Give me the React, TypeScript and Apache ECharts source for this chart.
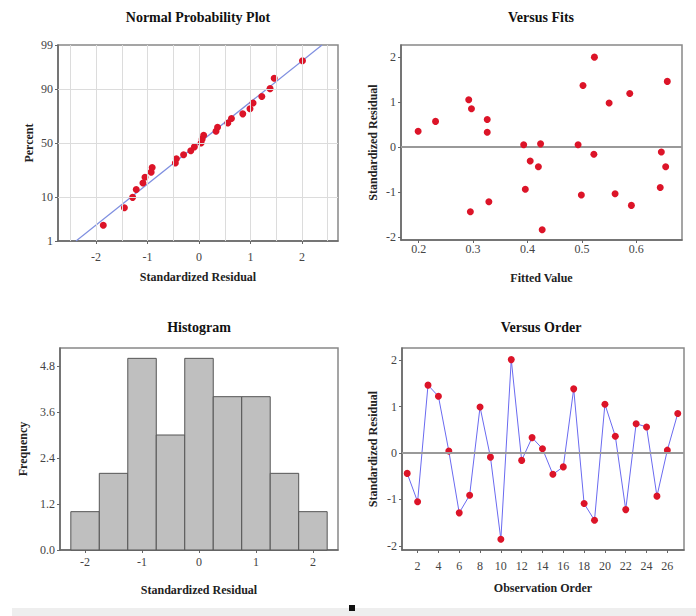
import React, { useEffect, useRef } from "react";
import * as echarts from "echarts";

// ---------- data ----------
const observationOrder = [1, 2, 3, 4, 5, 6, 7, 8, 9, 10, 11, 12, 13, 14, 15, 16, 17, 18, 19, 20, 21, 22, 23, 24, 25, 26, 27];
const residualsByOrder = [-0.44, -1.05, 1.46, 1.22, 0.04, -1.29, -0.91, 0.99, -0.09, -1.86, 2.01, -0.16, 0.33, 0.09, -0.46, -0.3, 1.38, -1.09, -1.45, 1.05, 0.36, -1.22, 0.63, 0.56, -0.93, 0.06, 0.85];

const fittedValues = [0.199, 0.231, 0.292, 0.297, 0.326, 0.326, 0.295, 0.329, 0.393, 0.424, 0.405, 0.42, 0.396, 0.427, 0.493, 0.502, 0.523, 0.522, 0.499, 0.55, 0.561, 0.588, 0.591, 0.657, 0.646, 0.654, 0.644];
const fitsResiduals = [0.35, 0.57, 1.05, 0.85, 0.61, 0.33, -1.44, -1.22, 0.05, 0.07, -0.31, -0.44, -0.94, -1.84, 0.05, 1.37, 2.0, -0.16, -1.07, 0.98, -1.04, 1.19, -1.3, 1.46, -0.11, -0.44, -0.9];

const sortedResiduals = [-1.86, -1.45, -1.29, -1.22, -1.09, -1.05, -0.93, -0.91, -0.46, -0.44, -0.3, -0.16, -0.09, 0.04, 0.06, 0.09, 0.33, 0.36, 0.56, 0.63, 0.85, 0.99, 1.05, 1.22, 1.38, 1.46, 2.01];
const probPercents = [2.55, 6.2, 9.85, 13.5, 17.15, 20.8, 24.45, 28.1, 31.75, 35.4, 39.05, 42.7, 46.35, 50.0, 53.65, 57.3, 60.95, 64.6, 68.25, 71.9, 75.55, 79.2, 82.85, 86.5, 90.15, 93.8, 97.45];
const refLineResidual = [-2.39, 2.39];
const refLinePercent = [1, 99];

const histBinEdges = [-2.25, -1.75, -1.25, -0.75, -0.25, 0.25, 0.75, 1.25, 1.75, 2.25];
const histCounts = [1, 2, 5, 3, 5, 4, 4, 2, 1];

// ---------- tick labels ----------
const percentTicks = [1, 10, 50, 90, 99];
const percentGridLines = [10, 50, 90];
const residualTicks = [-2, -1, 0, 1, 2];
const residualGridLines = [-2.5, -2, -1.5, -1, -0.5, 0, 0.5, 1, 1.5, 2, 2.5];
const fitTicks = [0.2, 0.3, 0.4, 0.5, 0.6];
const orderTicks = [2, 4, 6, 8, 10, 12, 14, 16, 18, 20, 22, 24, 26];
const freqTicks = [0, 1.2, 2.4, 3.6, 4.8];
const titles = ["Normal Probability Plot", "Versus Fits", "Histogram", "Versus Order"];

// inverse normal CDF (probability-scale transform)
function probit(p: number): number {
  const a = [-3.969683028665376e1, 2.209460984245205e2, -2.759285104469687e2, 1.38357751867269e2, -3.066479806614716e1, 2.506628277459239];
  const b = [-5.447609879822406e1, 1.615858368580409e2, -1.556989798598866e2, 6.680131188771972e1, -1.328068155288572e1];
  const c = [-7.784894002430293e-3, -3.223964580411365e-1, -2.400758277161838, -2.549732539343734, 4.374664141464968, 2.938163982698783];
  const d = [7.784695709041462e-3, 3.224671290700398e-1, 2.445134137142996, 3.754408661907416];
  const pl = 0.02425;
  if (p < pl) {
    const q = Math.sqrt(-2 * Math.log(p));
    return (((((c[0] * q + c[1]) * q + c[2]) * q + c[3]) * q + c[4]) * q + c[5]) / ((((d[0] * q + d[1]) * q + d[2]) * q + d[3]) * q + 1);
  }
  if (p <= 1 - pl) {
    const q = p - 0.5;
    const r = q * q;
    return ((((((a[0] * r + a[1]) * r + a[2]) * r + a[3]) * r + a[4]) * r + a[5]) * q) / (((((b[0] * r + b[1]) * r + b[2]) * r + b[3]) * r + b[4]) * r + 1);
  }
  const q = Math.sqrt(-2 * Math.log(1 - p));
  return -(((((c[0] * q + c[1]) * q + c[2]) * q + c[3]) * q + c[4]) * q + c[5]) / ((((d[0] * q + d[1]) * q + d[2]) * q + d[3]) * q + 1);
}

const FONT = "'Liberation Serif', 'Times New Roman', serif";
const RED = "#dc1428";
const AXIS_COLOR = "#666";

function makeAxis(opts: any) {
  const { gridIndex, min, max, ticks, name, nameGap, formatter, isY, margin } = opts;
  return {
    type: "value",
    gridIndex,
    min,
    max,
    name,
    nameLocation: "middle",
    nameGap,
    nameTextStyle: { fontFamily: FONT, fontWeight: "bold", fontSize: 12, color: "#222" },
    axisLine: { show: true, onZero: false, lineStyle: { color: AXIS_COLOR, width: 1.5 } },
    axisTick: { show: true, customValues: ticks, length: 3, inside: false, lineStyle: { color: AXIS_COLOR } },
    axisLabel: {
      customValues: ticks,
      margin: margin != null ? margin : isY ? 5 : 6,
      fontFamily: FONT,
      fontSize: 12,
      color: "#444",
      formatter: formatter || ((v: number) => String(v)),
    },
    splitLine: { show: false },
  };
}

export default function App() {
  const ref = useRef<HTMLDivElement>(null);

  useEffect(() => {
    if (!ref.current) return;
    const chart = echarts.init(ref.current, null, { renderer: "svg" });

    const zMin = probit(refLinePercent[0] / 100);
    const zMax = probit(refLinePercent[1] / 100);
    const zTicks = percentTicks.map((p) => probit(p / 100));

    const gridBase = { show: true, borderColor: "#888", borderWidth: 1.5, backgroundColor: "transparent", containLabel: false };

    const option: any = {
      animation: false,
      backgroundColor: "#fff",
      grid: [
        { ...gridBase, left: 58, top: 45, width: 280, height: 196 },
        { ...gridBase, left: 401, top: 45, width: 281, height: 195 },
        { ...gridBase, left: 60, top: 348, width: 278, height: 202 },
        { ...gridBase, left: 402, top: 348, width: 282, height: 202 },
      ],
      xAxis: [
        makeAxis({ gridIndex: 0, min: -2.74, max: 2.7, ticks: residualTicks, name: "Standardized Residual", nameGap: 30, margin: 10 }),
        makeAxis({ gridIndex: 1, min: 0.1675, max: 0.684, ticks: fitTicks, name: "Fitted Value", nameGap: 32, margin: 3, formatter: (v: number) => v.toFixed(1) }),
        makeAxis({ gridIndex: 2, min: -2.44, max: 2.44, ticks: residualTicks, name: "Standardized Residual", nameGap: 34, margin: 6 }),
        makeAxis({ gridIndex: 3, min: 0.5, max: 27.6, ticks: orderTicks, name: "Observation Order", nameGap: 32, margin: 10 }),
      ],
      yAxis: [
        makeAxis({
          gridIndex: 0, min: zMin, max: zMax, ticks: zTicks, name: "Percent", nameGap: 23, isY: true,
          formatter: (v: number) => {
            const i = zTicks.findIndex((z) => Math.abs(z - v) < 1e-4);
            return i >= 0 ? String(percentTicks[i]) : "";
          },
        }),
        makeAxis({ gridIndex: 1, min: -2.07, max: 2.27, ticks: residualTicks, name: "Standardized Residual", nameGap: 22, isY: true }),
        makeAxis({ gridIndex: 2, min: 0, max: 5.27, ticks: freqTicks, name: "Frequency", nameGap: 31, isY: true, formatter: (v: number) => v.toFixed(1) }),
        makeAxis({ gridIndex: 3, min: -2.09, max: 2.26, ticks: residualTicks, name: "Standardized Residual", nameGap: 23, isY: true }),
      ],
      series: [
        // Normal probability: reference line + grid lines
        {
          type: "line",
          xAxisIndex: 0,
          yAxisIndex: 0,
          z: 1,
          symbol: "none",
          silent: true,
          clip: true,
          lineStyle: { color: "#7f8fe0", width: 1.2 },
          data: refLineResidual.map((r, i) => [r, probit(refLinePercent[i] / 100)]),
          markLine: {
            silent: true,
            symbol: ["none", "none"],
            label: { show: false },
            lineStyle: { color: "#dcdcdc", width: 1, type: "solid" },
            data: [
              ...residualGridLines.map((v) => ({ xAxis: v })),
              ...percentGridLines.map((p) => ({ yAxis: probit(p / 100) })),
            ],
          },
        },
        {
          type: "scatter",
          xAxisIndex: 0,
          yAxisIndex: 0,
          z: 3,
          symbol: "circle",
          symbolSize: 7,
          itemStyle: { color: RED, opacity: 1 },
          data: sortedResiduals.map((r, i) => [r, probit(probPercents[i] / 100)]),
        },
        // Versus fits
        {
          type: "scatter",
          xAxisIndex: 1,
          yAxisIndex: 1,
          z: 3,
          symbol: "circle",
          symbolSize: 7,
          itemStyle: { color: RED, opacity: 1 },
          data: fittedValues.map((f, i) => [f, fitsResiduals[i]]),
          markLine: {
            silent: true,
            symbol: ["none", "none"],
            label: { show: false },
            z: 1,
            lineStyle: { color: "#999", width: 2, type: "solid" },
            data: [{ yAxis: 0 }],
          },
        },
        // Histogram
        {
          type: "custom",
          xAxisIndex: 2,
          yAxisIndex: 2,
          data: histCounts.map((c, i) => [histBinEdges[i], histBinEdges[i + 1], c]),
          encode: { x: [0, 1], y: 2 },
          renderItem: (params: any, api: any) => {
            const p0 = api.coord([api.value(0), api.value(2)]);
            const p1 = api.coord([api.value(1), 0]);
            return {
              type: "rect",
              shape: { x: p0[0], y: p0[1], width: p1[0] - p0[0], height: p1[1] - p0[1] },
              style: { fill: "#bfbfbf", stroke: "#555", lineWidth: 1 },
            };
          },
        },
        // Versus order
        {
          type: "line",
          xAxisIndex: 3,
          yAxisIndex: 3,
          z: 3,
          symbol: "circle",
          symbolSize: 7,
          showAllSymbol: true,
          itemStyle: { color: RED },
          lineStyle: { color: "#6a6af0", width: 1 },
          data: observationOrder.map((o, i) => [o, residualsByOrder[i]]),
          markLine: {
            silent: true,
            symbol: ["none", "none"],
            label: { show: false },
            lineStyle: { color: "#999", width: 2, type: "solid" },
            data: [{ yAxis: 0 }],
          },
        },
      ],
      graphic: [
        ...[
          [198, 17],
          [541, 17],
          [199, 327],
          [541, 327],
        ].map(([x, y], i) => ({
          type: "text",
          x,
          y,
          style: {
            text: titles[i],
            textAlign: "center",
            textVerticalAlign: "middle",
            fontFamily: FONT,
            fontWeight: "bold",
            fontSize: 14,
            fill: "#111",
          },
        })),
        { type: "rect", shape: { x: 12, y: 608, width: 684, height: 8 }, style: { fill: "#eeeeee" } },
        { type: "rect", shape: { x: 349, y: 605, width: 6, height: 6 }, style: { fill: "#111" } },
      ],
    };

    chart.setOption(option);
    return () => chart.dispose();
  }, []);

  return <div ref={ref} style={{ position: "fixed", left: 0, top: 0, width: 696, height: 616 }} />;
}
